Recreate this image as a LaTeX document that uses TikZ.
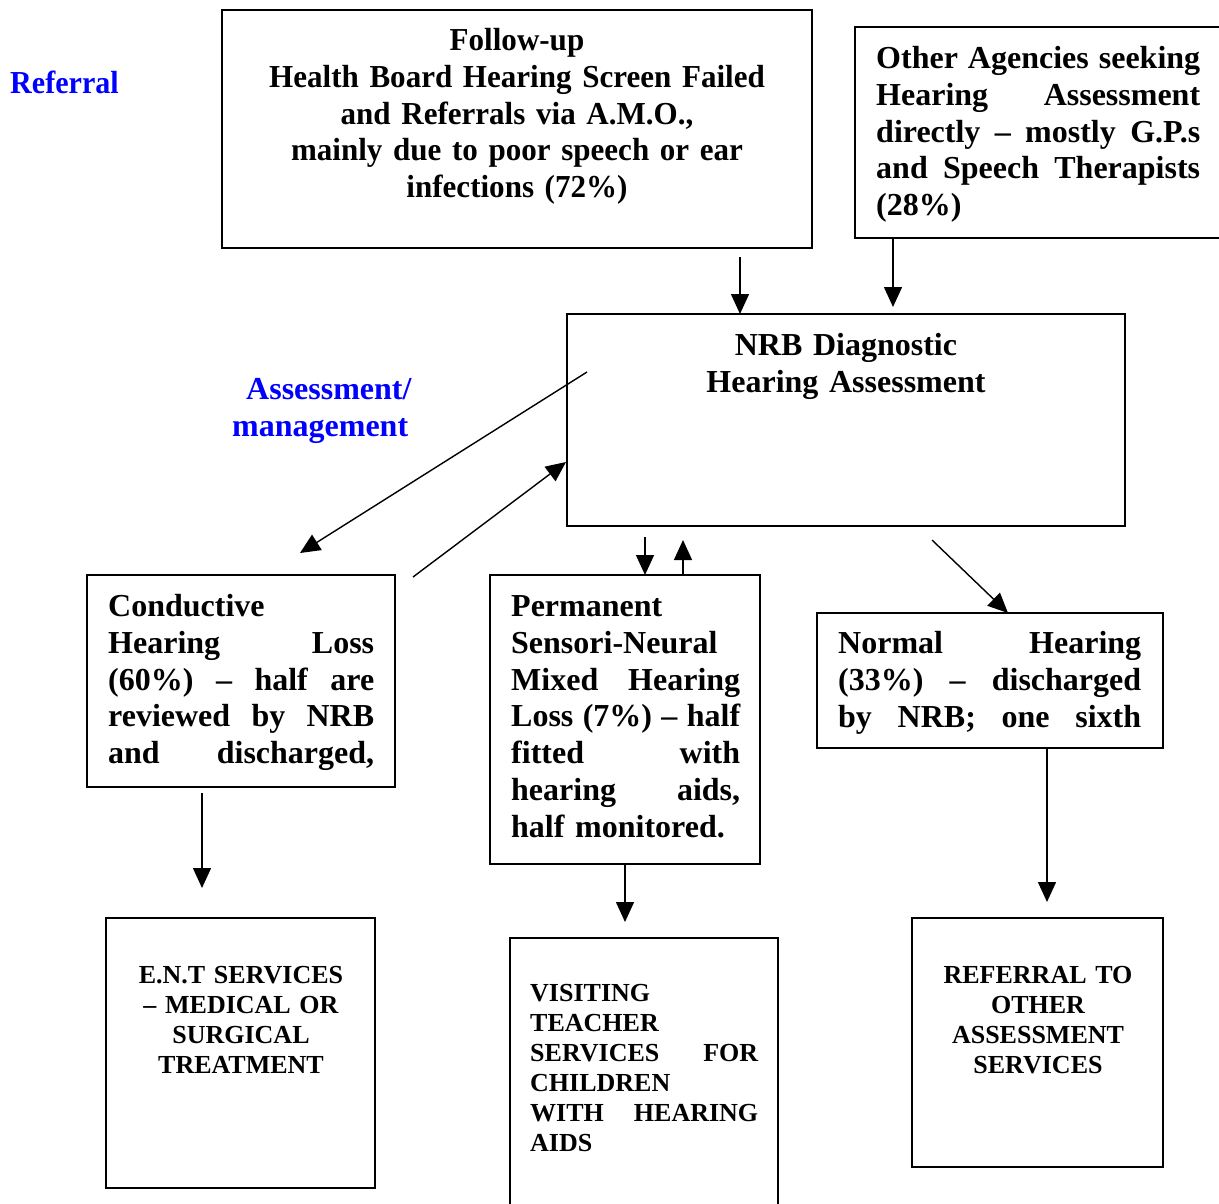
\documentclass[tikz,border=0pt]{standalone}
\usepackage{fontspec}
\setmainfont{Liberation Serif}
\newfontfamily\condA[FakeStretch=0.97]{Liberation Serif}
\newfontfamily\condB[FakeStretch=0.94]{Liberation Serif}
\usetikzlibrary{arrows.meta}
\newcommand\jl[1]{\leavevmode\hbox to \linewidth{#1}}
\begin{document}
\begin{tikzpicture}[x=1pt,y=-1pt,
  box/.style={draw,line width=1.8pt,inner sep=0pt,outer sep=0pt,anchor=north west},
  arr/.style={line width=1.4pt,-{Triangle[length=20pt,width=18pt]}},
  big/.style={font=\fontsize{32}{36.8}\selectfont\bfseries,inner sep=0pt},
  small/.style={font=\fontsize{26}{30}\selectfont\bfseries,inner sep=0pt},
  lab/.style={big,text=blue}]
\useasboundingbox (0,0) rectangle (1219,1203);

% boxes
\node[box,minimum width=590pt,minimum height=238pt] (b1) at (222,10) {};
\node[box,minimum width=375pt,minimum height=211pt] (b2) at (855,27) {};
\node[box,minimum width=558pt,minimum height=212pt] (nrb) at (567,314) {};
\node[box,minimum width=308pt,minimum height=212pt] (cond) at (87,575) {};
\node[box,minimum width=270pt,minimum height=289pt] (perm) at (490,575) {};
\node[box,minimum width=346pt,minimum height=135pt] (norm) at (817,613) {};
\node[box,minimum width=269pt,minimum height=270pt] (ent) at (106,918) {};
\node[box,minimum width=268pt,minimum height=280pt] (vis) at (510,938) {};
\node[box,minimum width=251pt,minimum height=249pt] (refb) at (912,918) {};

% labels
\node[lab,anchor=base west] (lref) at (10,93) {\condB Referral};
\node[lab,anchor=base west,text width=200pt,align=left] (lass) at (232,399.5)
  {\hspace*{14pt}Assessment/\\management};

% texts
\node[big,anchor=base,text width=580pt,align=center] (t1) at (517,50.5)
  {\condA Follow-up\\Health Board Hearing Screen Failed\\and Referrals via A.M.O.,\\mainly due to poor speech or ear\\infections (72\%)};
\node[big,anchor=base west,text width=324pt,align=left] (t2) at (876,68.5)
  {\jl{Other\hfill Agencies\hfill seeking}\\
   \jl{Hearing\hfill Assessment}\\
   \jl{directly\hfill –\hfill mostly\hfill G.P.s}\\
   \jl{and\hfill Speech\hfill Therapists}\\
   (28\%)};
\node[big,anchor=base,text width=540pt,align=center] (tn) at (846,355.5)
  {NRB Diagnostic\\Hearing Assessment};
\node[big,anchor=base west,text width=266pt,align=left] (tc) at (108,616.5)
  {Conductive\\
   \jl{Hearing\hfill Loss}\\
   \jl{(60\%)\hfill –\hfill half\hfill are}\\
   \jl{reviewed\hfill by\hfill NRB}\\
   \jl{and\hfill discharged,}};
\node[big,anchor=base west,text width=229pt,align=left] (tp) at (511,616.5)
  {Permanent\\
   Sensori-Neural\\
   \jl{Mixed\hfill Hearing}\\
   \jl{Loss\hfill (7\%)\hfill –\hfill half}\\
   \jl{fitted\hfill with}\\
   \jl{hearing\hfill aids,}\\
   half monitored.};
\node[big,anchor=base west,text width=303pt,align=left] (tno) at (838,653.5)
  {\jl{Normal\hfill Hearing}\\
   \jl{(33\%)\hfill –\hfill discharged}\\
   \jl{by\hfill NRB;\hfill one\hfill sixth}};
\node[small,anchor=base,text width=260pt,align=center] (te) at (241,983.5)
  {E.N.T SERVICES\\– MEDICAL OR\\SURGICAL\\TREATMENT};
\node[small,anchor=base west,text width=228pt,align=left] (tv) at (530,1001)
  {VISITING\\
   TEACHER\\
   \jl{SERVICES\hfill FOR}\\
   CHILDREN\\
   \jl{WITH\hfill HEARING}\\
   AIDS};
\node[small,anchor=base,text width=245pt,align=center] (tr) at (1038,983.5)
  {REFERRAL TO\\OTHER\\ASSESSMENT\\SERVICES};

% connectors
\coordinate (p1) at ([shift={(518,9)}]b1.south west);
\draw[arr] (p1) -- (p1 |- nrb.north);
\coordinate (p2) at ([shift={(38,0)}]b2.south west);
\draw[arr] (p2) -- ([yshift=7pt]p2 |- nrb.north);
\draw[arr] ([shift={(20,58)}]nrb.north west) -- ([shift={(213,-22)}]cond.north west);
\draw[arr] ([shift={(18,2)}]cond.north east) -- ([shift={(-1,-64)}]nrb.south west);
\draw[arr] ([shift={(78,11)}]nrb.south west) -- ([shift={(20,0)}]perm.north);
\draw[arr] ([shift={(58,0)}]perm.north) -- ([shift={(116,14)}]nrb.south west);
\draw[arr] ([shift={(-193,14)}]nrb.south east) -- ([shift={(191,0)}]norm.north west);
\draw[arr] ([shift={(115,6)}]cond.south west) -- ([shift={(96,-30)}]ent.north west);
\draw[arr] (perm.south) -- ([yshift=16pt]perm.south |- vis.north);
\draw[arr] ([shift={(230,0)}]norm.south west) -- ([shift={(135,-16)}]refb.north west);
\end{tikzpicture}
\end{document}
